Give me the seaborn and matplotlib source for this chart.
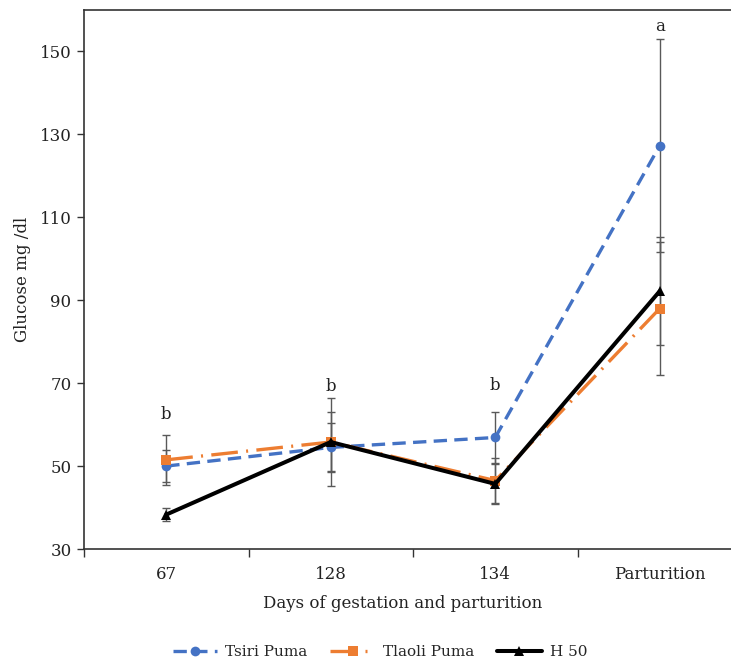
import pandas as pd
import matplotlib.pyplot as plt
import seaborn as sns

#chart data
stages = ['67', '128', '134', 'Parturition']
series_names = ['Tsiri Puma', 'Tlaoli Puma', 'H 50']
tsiri_mean = [50.0, 54.5, 56.9, 127.3]
tsiri_err = [3.8, 5.8, 6.2, 25.7]
tlaoli_mean = [51.5, 55.8, 46.5, 88.0]
tlaoli_err = [6.0, 7.2, 5.5, 16.0]
h50_mean = [38.3, 55.8, 45.7, 92.2]
h50_err = [1.6, 10.5, 4.8, 13.0]
letters = ['b', 'b', 'b', 'a']
letter_y = [62.4, 69.2, 69.4, 156.0]

#long table for seaborn
rows = []
for name, means, errs in zip(series_names,
                             [tsiri_mean, tlaoli_mean, h50_mean],
                             [tsiri_err, tlaoli_err, h50_err]):
    for i, (m, e) in enumerate(zip(means, errs)):
        rows.append({'stage': i, 'label': stages[i], 'group': name, 'glucose': m, 'err': e})
df = pd.DataFrame(rows)

sns.set_theme(style='white')
plt.rcParams['font.family'] = ['DejaVu Serif']

colors = {'Tsiri Puma': '#4472C4', 'Tlaoli Puma': '#ED7D31', 'H 50': '#000000'}
markers = {'Tsiri Puma': 'o', 'Tlaoli Puma': 's', 'H 50': '^'}
dashes = {'Tsiri Puma': (4, 2.2), 'Tlaoli Puma': (8, 2.5, 0.6, 2.5), 'H 50': ''}

fig = plt.figure(figsize=(7.31, 6.64), dpi=100)
ax = fig.add_axes([84/731, 1-549/664, 658/731, 539/664])

#error bars first, lines on top
for name in series_names:
    d = df[df['group'] == name]
    ax.errorbar(d['stage'], d['glucose'], yerr=d['err'], fmt='none',
                ecolor='#595959', elinewidth=1.0, capsize=3, capthick=1.0, zorder=2)

sns.lineplot(data=df, x='stage', y='glucose', hue='group', style='group',
             hue_order=series_names, style_order=series_names,
             palette=colors, markers=markers, dashes=dashes,
             markersize=7, markeredgewidth=0, linewidth=2.4, sort=False,
             ax=ax, zorder=3)
for ln in ax.get_lines():
    if ln.get_color() == '#000000':
        ln.set_linewidth(2.9)

#significance letters
for i, (t, yv) in enumerate(zip(letters, letter_y)):
    ax.text(i, yv, t, ha='center', va='center', fontsize=12, color='#222222')

ax.set_xlim(-0.5, 3.5)
ax.set_ylim(30, 160)
ax.set_yticks([30, 50, 70, 90, 110, 130, 150])
ax.set_xticks([-0.5, 0.5, 1.5, 2.5, 3.5])
ax.set_xticklabels([])
ax.set_xticks(range(4), minor=True)
ax.set_xticklabels(stages, minor=True)
ax.tick_params(axis='x', which='major', direction='out', length=6, width=1, color='#333333', bottom=True)
ax.tick_params(axis='x', which='minor', length=0, labelsize=12, pad=12, colors='#222222')
ax.tick_params(axis='y', direction='out', length=5, width=1, color='#333333', left=True,
               labelsize=12, labelcolor='#222222', pad=4)

for side in ['left', 'bottom', 'top']:
    ax.spines[side].set_color('#333333')
    ax.spines[side].set_linewidth(1.2)
ax.spines['right'].set_visible(False)

ax.set_xlabel('Days of gestation and parturition', fontsize=12, color='#222222')
ax.set_ylabel('Glucose mg /dl', fontsize=12, color='#222222')
ax.xaxis.set_label_coords((403-84)/658, -(595-549)/539)
ax.yaxis.set_label_coords(-(84-31)/658, 0.5)

handles, labels = ax.get_legend_handles_labels()
for h in handles:
    if h.get_label() == 'H 50':
        h.set_linewidth(2.9)
ax.legend(handles, labels, loc='center', bbox_to_anchor=(380/731, 1-652/664),
          bbox_transform=fig.transFigure, ncol=3, frameon=False, fontsize=11,
          handlelength=2.9, columnspacing=1.5, handletextpad=0.55)

fig.savefig('out.png', dpi=100)
